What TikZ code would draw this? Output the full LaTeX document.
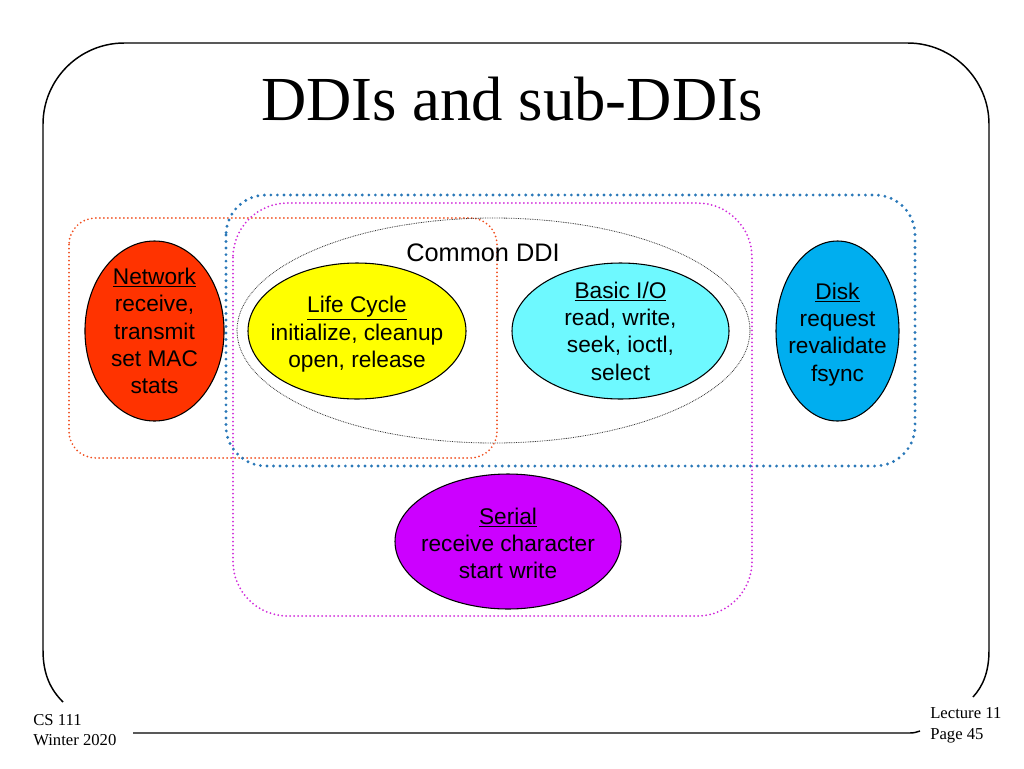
\documentclass[tikz,border=0pt]{standalone}
\usepackage{fontspec}
\setmainfont{Liberation Serif}
\newfontfamily\sansfam{Liberation Sans}
\usetikzlibrary{shapes.geometric}
\definecolor{netred}{HTML}{FF3300}
\definecolor{lifeyellow}{HTML}{FFFF00}
\definecolor{iocyan}{HTML}{6EF9FF}
\definecolor{diskblue}{HTML}{00AEEF}
\definecolor{serialpurple}{HTML}{CC00FF}
\definecolor{grpred}{HTML}{F04E1E}
\definecolor{grpblue}{HTML}{2A78B8}
\definecolor{grpmag}{HTML}{D02ADA}
\tikzset{
  ell/.style={ellipse, draw=black, line width=0.8pt, inner sep=0pt},
  lbl/.style={font=\sansfam\fontsize{17}{20.5}\selectfont, align=center, inner sep=0pt},
  foot/.style={font=\fontsize{12.5}{15}\selectfont, anchor=base west, inner sep=0pt},
  frameline/.style={line width=1.1pt, black},
}
\begin{document}
\begin{tikzpicture}[x=0.75pt,y=-0.75pt]
\useasboundingbox (0,0) rectangle (1024,768);
% slide frame
\draw[frameline, rounded corners=61pt] (43,650) -- (43,43) -- (989,43) -- (989,650);
\draw[frameline] (43,650) .. controls (43,675) and (51,690) .. (63,702);
\draw[frameline] (989,650) .. controls (989,672) and (983,686) .. (973,697);
\draw[frameline] (133,733) -- (910,733) .. controls (914,733) and (917,732) .. (920,731);
% title
\node[anchor=base, inner sep=0pt, font=\fontsize{47}{56}\selectfont] (title) at (512,120) {DDIs and sub-DDIs};
% group outlines
\draw[grpred, line width=1.45pt, line cap=round, dash pattern=on 0pt off 3pt, rounded corners=20pt]
  (69,218) rectangle (497,458);
\draw[grpmag, line width=1.5pt, line cap=round, dash pattern=on 0pt off 3pt, rounded corners=41pt]
  (233,203) rectangle (752,616);
\draw[grpblue, line width=2.4pt, line cap=round, dash pattern=on 0pt off 4.9pt, rounded corners=30pt]
  (226,195) rectangle (915,466);
% common DDI ellipse
\node[ellipse, draw=black!80, line width=0.6pt, dash pattern=on 0.6pt off 0.7pt, inner sep=0pt,
  minimum width=384.75pt, minimum height=168.75pt] (common) at (493.5,330.5) {};
\node[anchor=base, inner sep=0pt, font=\sansfam\fontsize{19}{23}\selectfont] (commonlbl) at (483,261) {Common DDI};
% sub-DDI ellipses
\node[ell, fill=netred, minimum width=104.3pt, minimum height=135pt] (net) at (154.5,331) {};
\node[lbl] (netl) at (net) {\underline{Network}\\receive,\\transmit\\set MAC\\stats};
\node[ell, fill=lifeyellow, minimum width=163.5pt, minimum height=102pt] (life) at (357,331) {};
\node[lbl] (lifel) at ([yshift=-2.5pt]life.center) {\underline{Life Cycle}\\initialize, cleanup\\open, release};
\node[ell, fill=iocyan, minimum width=162.75pt, minimum height=102pt] (io) at (620.5,331) {};
\node[lbl] (iol) at (io) {\underline{Basic I/O}\\read, write,\\seek, ioctl,\\select};
\node[ell, fill=diskblue, minimum width=92.25pt, minimum height=135pt] (disk) at (837.5,331) {};
\node[lbl] (diskl) at ([yshift=-2.5pt]disk.center) {\underline{Disk}\\request\\revalidate\\fsync};
\node[ell, fill=serialpurple, minimum width=169.5pt, minimum height=101.25pt] (serial) at (508,541.5) {};
\node[lbl] (seriall) at ([yshift=-1.5pt]serial.center) {\underline{Serial}\\receive character\\start write};
% footer
\node[foot] (cs) at (33,725) {CS 111};
\node[foot] (win) at (33,745) {Winter 2020};
\node[foot] (lec) at (930,718) {Lecture 11};
\node[foot] (pg) at (930,739) {Page 45};
\end{tikzpicture}
\end{document}
